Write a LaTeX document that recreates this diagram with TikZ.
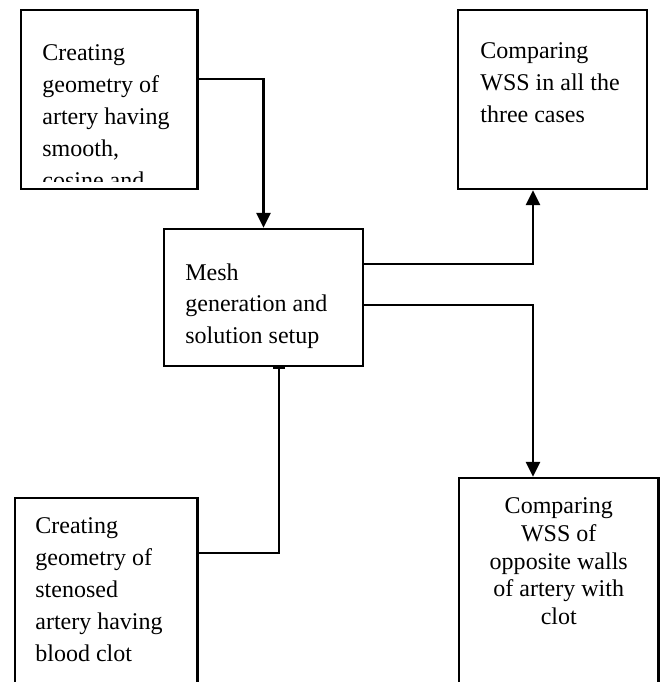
\documentclass[tikz,border=0pt]{standalone}
\usepackage{fontspec}
\setmainfont{Liberation Serif}
\usetikzlibrary{arrows.meta}

\begin{document}
\begin{tikzpicture}[
        box/.style={draw, line width=1.3pt, inner sep=0pt},
        txt/.style={inner sep=0pt, align=left, anchor=north west, font=\fontsize{13.66}{18.2}\selectfont},
        flow/.style={line width=1.3pt, -{Triangle[width=0.28cm,length=0.3cm]}},
        feed/.style={line width=1.3pt, -{Bar[width=0.24cm]}}
    ]
                \clip (0,0) rectangle (13.2,13.64);
                % boxes
                \node[box, minimum width=3.53cm, minimum height=3.58cm] (geom) at (2.185,11.65) {};
                \node[box, minimum width=3.78cm, minimum height=3.58cm] (cmpall) at (11.05,11.65) {};
                \node[box, minimum width=3.98cm, minimum height=2.74cm] (mesh) at (5.27,7.69) {};
                \node[box, minimum width=3.65cm, minimum height=4.04cm] (clot) at (2.125,1.66) {};
                \node[box, minimum width=3.99cm, minimum height=4.44cm] (cmpwall) at (11.175,1.86) {};
                % texts
                \begin{scope}
                    \clip (0,10.0) rectangle (6,13.64);
                    \node[txt] (geomtxt) at (0.84,12.75) {Creating\\geometry of\\artery having\\smooth,\\cosine and};
                \end{scope}
                \node[txt] (cmpalltxt) at (9.6,12.80) {Comparing\\WSS in all the\\three cases};
                \node[txt] (meshtxt) at (3.7,8.38) {Mesh\\generation and\\solution setup};
                \node[txt] (clottxt) at (0.7,3.30) {Creating\\geometry of\\stenosed\\artery having\\blood clot};
                \node[txt, anchor=north, align=center, font=\fontsize{13.66}{15.76}\selectfont] (cmpwalltxt) at (11.175,3.69) {Comparing\\WSS of\\opposite walls\\of artery with\\clot};
                % connectors
                \draw[flow] ([yshift=0.41cm]geom.east) -| (mesh.north);
                \draw[flow] ([yshift=0.67cm]mesh.east) -| ([xshift=-0.39cm]cmpall.south);
                \draw[flow] ([yshift=-0.15cm]mesh.east) -| ([xshift=-0.515cm]cmpwall.north);
                \draw[feed] ([yshift=0.92cm]clot.east) -| ([xshift=0.31cm]mesh.south);
            \end{tikzpicture}
\end{document}
